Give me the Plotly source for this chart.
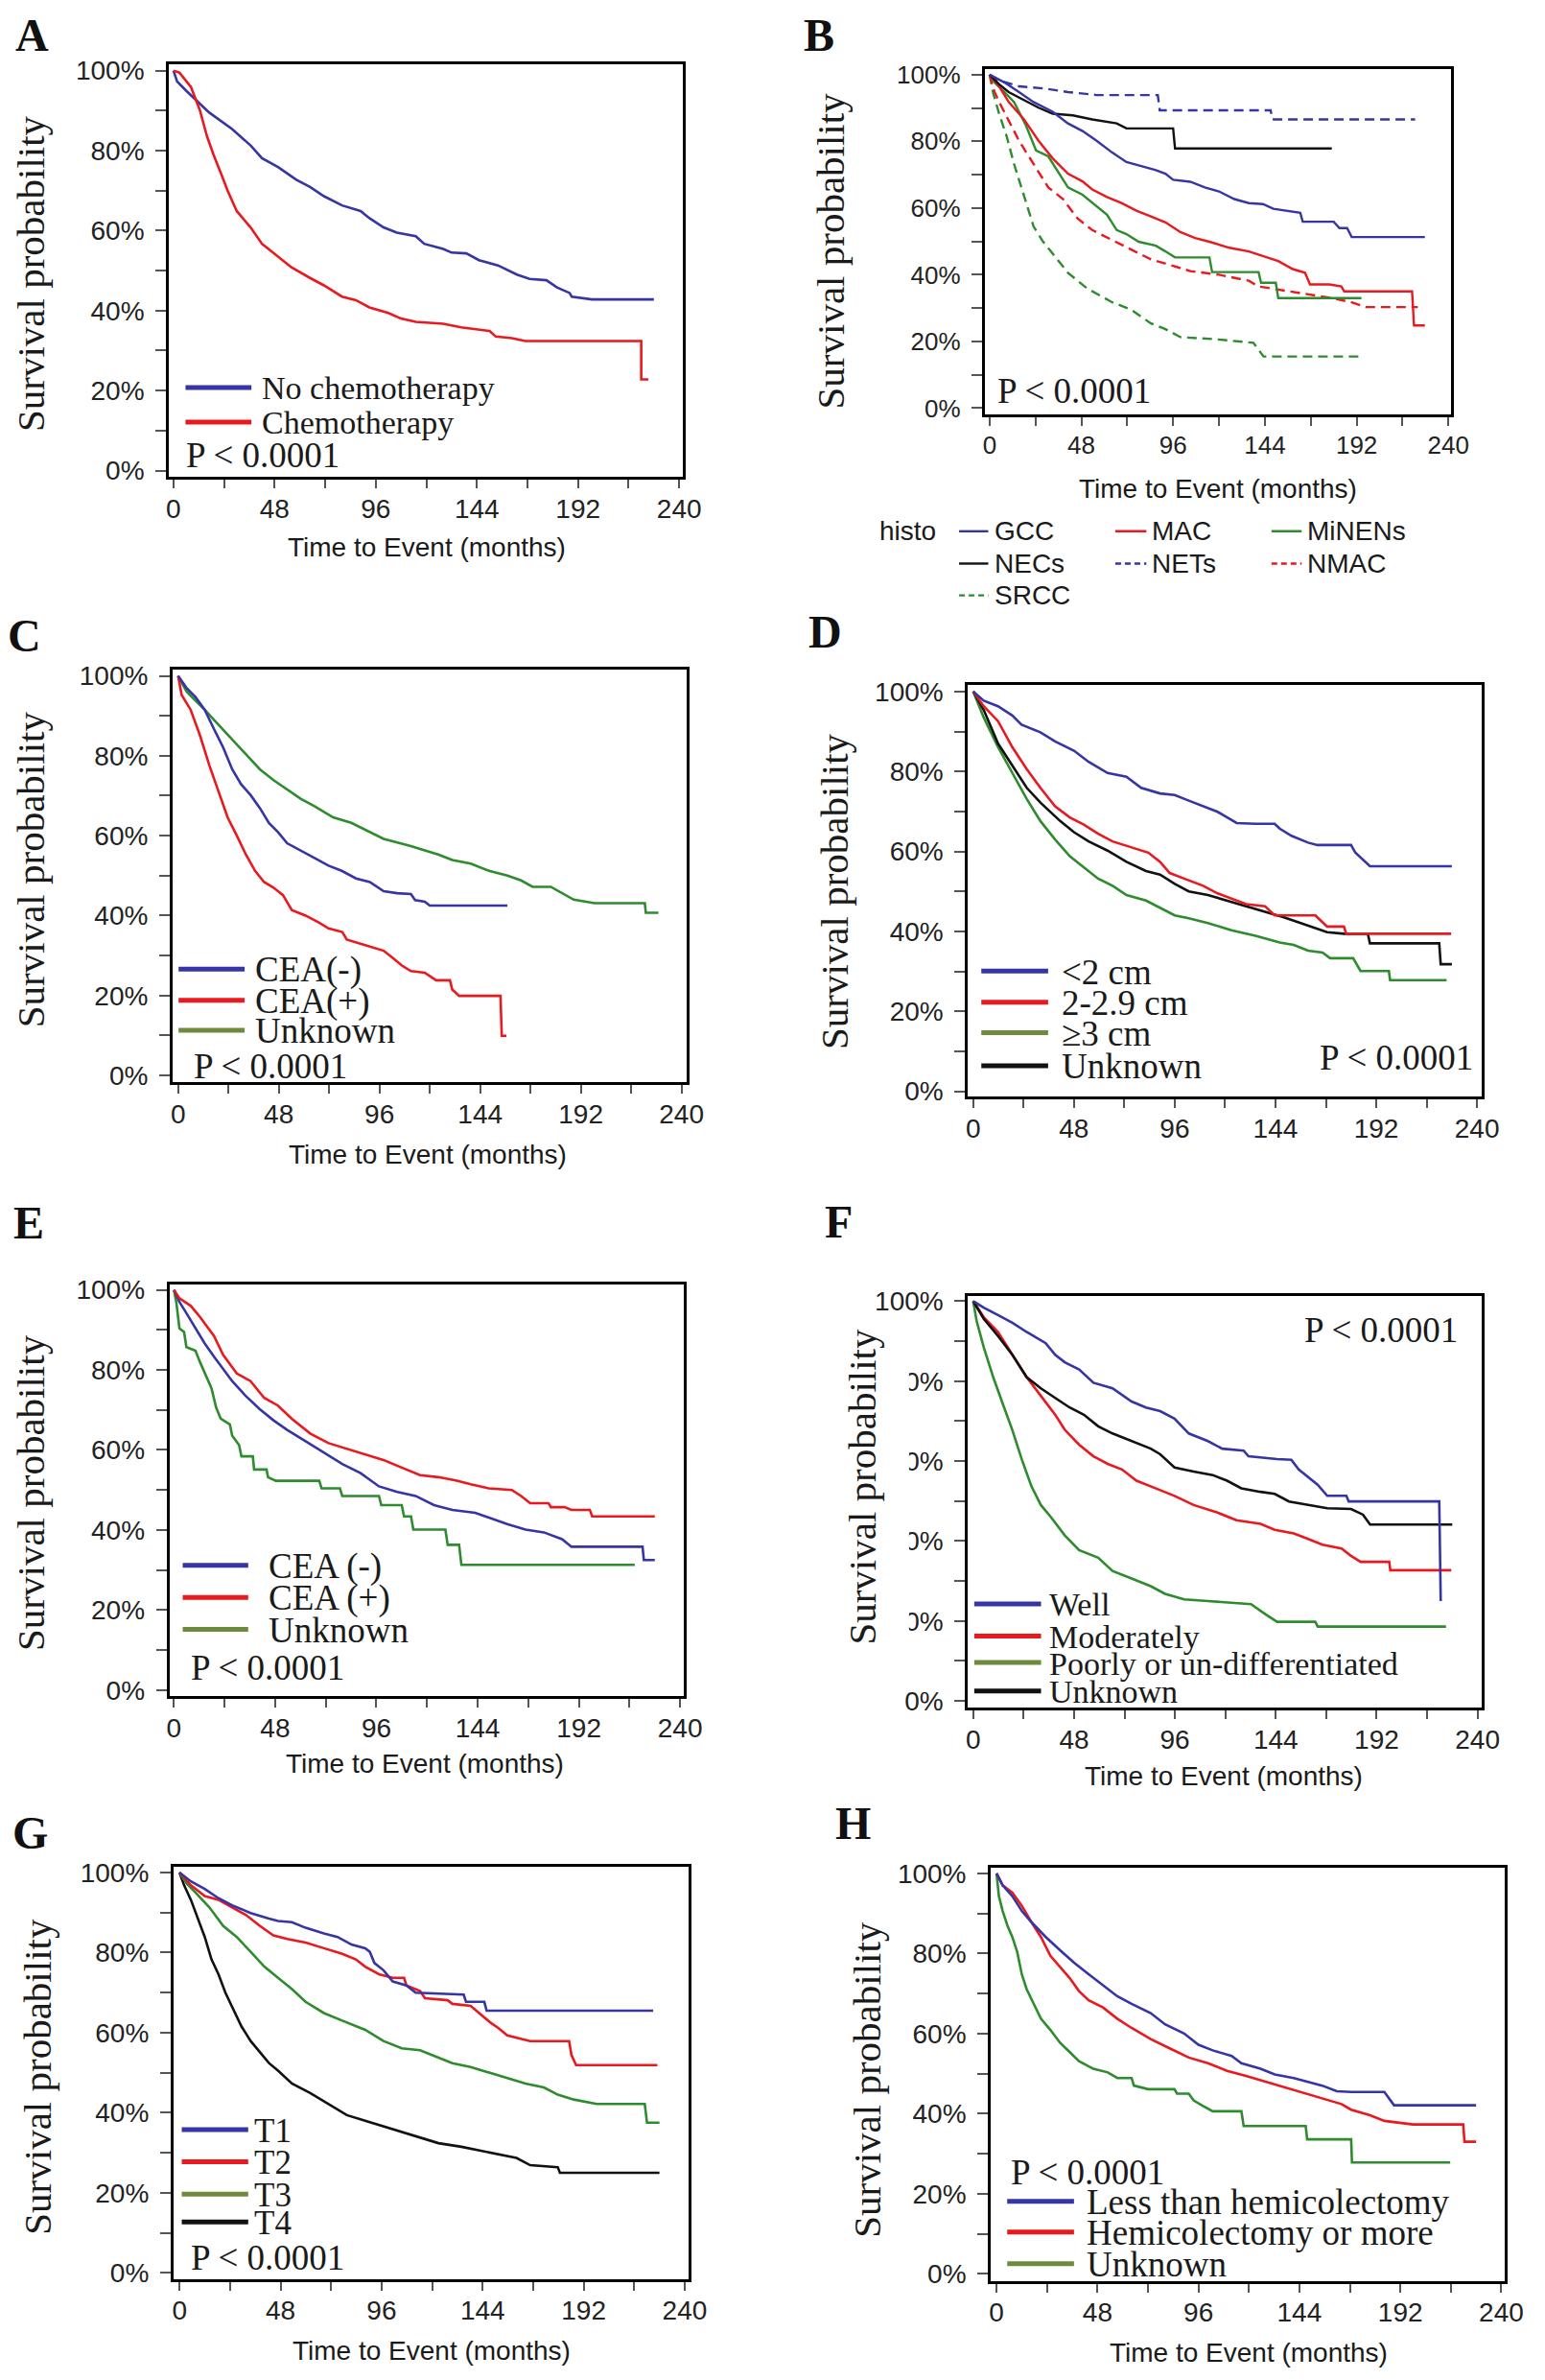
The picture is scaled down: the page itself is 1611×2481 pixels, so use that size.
import plotly.graph_objects as go

# page is 1611 x 2481 with the browser's default 8px body margin around the figure
OFF = 8
FW, FH = 1594, 2464
K = 1560.0 / 1568.0   # correction of measured positions

BLUE = "#3535a5"
RED = "#e8191f"
GREEN = "#2e8b2e"
BLACK = "#111111"
OLIVE = "#6e8b3d"

# ---------------- data (months, survival %) ----------------
A_nochemo_t = [0, 1.7, 6, 10.4, 17, 27.8, 36.6, 42, 49.6, 58.3, 64.8, 71.4, 80, 88.8, 93, 99.7, 106, 115, 119, 128, 132, 139, 145, 154, 163, 169, 177, 182, 188, 189, 198.6, 228]
A_nochemo_s = [100, 97.3, 95.0, 92.7, 89.5, 85.4, 81.3, 78.1, 75.9, 72.7, 70.9, 68.6, 66.3, 64.9, 63.1, 60.8, 59.5, 58.6, 56.7, 55.4, 54.5, 54.3, 52.6, 51.3, 49.0, 47.9, 47.6, 45.8, 44.4, 43.5, 42.8, 42.8]
A_chemo_t = [0, 2.8, 8.3, 12.6, 15.9, 19, 22.4, 25.7, 30, 36.6, 42, 45, 49.6, 56, 65, 71.4, 80, 86.6, 93, 102, 108, 115, 128, 136.6, 150, 153, 160.6, 167, 222, 222, 225.4]
A_chemo_s = [100, 99.5, 95.9, 90.0, 83.6, 79.0, 74.5, 70.0, 64.9, 60.8, 56.7, 55.4, 53.6, 50.8, 48.1, 46.3, 43.5, 42.6, 40.8, 39.4, 38.0, 37.2, 36.7, 35.8, 34.9, 33.5, 33.1, 32.4, 32.4, 22.8, 22.8]

B_gcc_t = [0, 7.7, 15.4, 23, 33, 41, 48.6, 56, 64, 71.6, 79.3, 87, 92, 96, 105, 112.6, 120, 128, 135.6, 143, 148.4, 156, 162.5, 163.8, 180, 183, 187, 189.4, 227.7]
B_gcc_s = [100, 97.7, 94.8, 91.8, 88.9, 85.4, 83.1, 80.2, 76.7, 73.8, 72.6, 71.4, 70.3, 68.5, 67.9, 66.2, 65.0, 62.7, 61.5, 61.2, 59.8, 59.2, 58.6, 55.9, 55.9, 54.0, 54.0, 51.3, 51.3]
B_mac_t = [0, 5, 10, 18, 25.6, 33, 41, 48.6, 53.7, 61.4, 69, 76.8, 84.4, 92, 99.8, 107.5, 115, 125.4, 135.6, 145.9, 151, 158.6, 165, 167.6, 177.8, 184, 185.5, 221, 222, 227.7]
B_mac_s = [100, 96.5, 91.8, 86.6, 80.2, 74.9, 70.3, 68.0, 65.6, 63.3, 61.5, 59.2, 57.5, 55.7, 52.8, 51.0, 49.9, 48.1, 47.0, 45.2, 44.1, 41.7, 40.6, 37.1, 37.1, 36.5, 35.0, 35.0, 24.8, 24.8]
B_minens_t = [0, 2.6, 7.7, 12.8, 19, 24.3, 30.7, 35.8, 41, 48.6, 56, 61.4, 66.5, 71.6, 78, 87, 92, 97, 115, 116.4, 140.7, 142, 149.7, 151, 194.5]
B_minens_s = [100, 97.7, 94.8, 91.8, 84.8, 77.3, 75.5, 70.9, 66.2, 64.0, 60.4, 58.0, 53.4, 52.2, 49.9, 48.7, 47.0, 45.2, 45.2, 40.8, 40.8, 37.6, 37.6, 33.0, 33.0]
B_necs_t = [0, 5, 10, 18, 25.6, 33, 43.5, 53.7, 66.5, 71.6, 96, 97, 179]
B_necs_s = [100, 97.1, 94.8, 92.4, 90.1, 88.3, 87.8, 86.6, 85.4, 83.9, 83.9, 77.9, 77.9]
B_nets_t = [0, 5, 15.4, 28, 41, 56, 88, 89, 147, 148, 222.6]
B_nets_s = [100, 98.3, 96.5, 95.9, 94.8, 93.9, 93.9, 89.3, 89.3, 86.6, 86.6]
B_nmac_t = [0, 2.6, 5, 10, 15.4, 20.5, 25.6, 30.7, 38.4, 46, 53.7, 64, 74.2, 84.4, 94.7, 105, 120, 135.6, 140.7, 161, 179, 189, 197, 224]
B_nmac_s = [100, 94.8, 91.8, 86.0, 80.2, 75.5, 70.9, 66.2, 62.7, 56.9, 53.4, 50.5, 47.6, 44.6, 42.9, 41.1, 40.0, 38.2, 36.5, 34.7, 33.0, 31.8, 30.3, 30.3]
B_srcc_t = [0, 2, 5, 9, 12.8, 18, 23, 28, 33, 41, 51, 64, 74.2, 84.4, 92, 99.8, 117.7, 138, 143.3, 194.5]
B_srcc_s = [100, 94.2, 88.3, 81.4, 73.2, 63.9, 54.5, 49.9, 46.4, 40.6, 35.9, 31.8, 29.5, 25.4, 23.7, 21.3, 20.7, 19.6, 15.5, 15.5]

C_neg_t = [0, 4, 8.3, 12.7, 17, 21.4, 25.8, 30, 34.5, 39, 43.3, 47.6, 52, 58.6, 65, 71.7, 78, 84.8, 91.4, 98, 104.5, 111, 113, 117.6, 120, 157]
C_neg_s = [100, 97.0, 94.7, 91.5, 86.8, 82.2, 76.6, 72.9, 70.2, 66.9, 63.2, 60.9, 58.1, 56.3, 54.4, 52.5, 51.2, 49.3, 48.4, 46.1, 45.6, 45.4, 43.9, 43.5, 42.5, 42.5]
C_pos_t = [0, 1.7, 6, 10.5, 14.9, 19.2, 23.6, 28, 32.3, 36.7, 41, 45.5, 50, 54.2, 60.8, 67.3, 71.7, 78.3, 80.4, 89.2, 98, 102.3, 106.7, 111, 117.6, 123, 129.6, 130.7, 134, 153.7, 154.3, 156.5]
C_pos_s = [100, 95.2, 91.5, 85.0, 77.6, 71.1, 64.6, 60.0, 55.3, 51.2, 48.4, 47.0, 45.1, 41.4, 40.0, 38.2, 36.8, 35.9, 34.0, 32.6, 31.2, 29.4, 27.5, 26.1, 25.7, 23.8, 23.8, 21.5, 19.9, 19.9, 9.9, 9.9]
C_unk_t = [0, 4, 8.3, 12.7, 19.2, 25.8, 32.3, 39, 45.5, 52, 58.6, 65, 73.9, 82.6, 91.4, 98, 104.5, 111, 117.6, 124, 130.7, 139.5, 148.2, 157, 163.5, 169, 177.7, 183, 188.6, 198.5, 222.5, 223, 229]
C_unk_s = [100, 96.1, 93.8, 91.5, 87.8, 84.1, 80.4, 76.6, 73.9, 71.5, 69.2, 67.4, 64.6, 63.2, 60.9, 59.2, 58.3, 57.4, 56.3, 55.3, 53.9, 53.0, 51.2, 50.0, 48.8, 47.2, 47.2, 45.6, 44.0, 43.1, 43.1, 40.7, 40.7]

D_lt2_t = [0, 5, 11.8, 18.6, 23, 32, 39, 48, 55, 64, 73, 80, 89, 96, 102.7, 109.5, 116.4, 121, 125.5, 134.5, 143.6, 146, 151.6, 159.5, 164, 180, 182, 189, 228]
D_lt2_s = [100, 97.7, 96.3, 94.0, 91.7, 89.8, 87.5, 85.2, 82.4, 79.6, 78.7, 75.9, 74.5, 74.1, 72.7, 71.3, 69.9, 68.5, 67.1, 66.9, 66.9, 65.7, 63.9, 62.2, 61.6, 61.6, 59.7, 56.3, 56.3]
D_mid_t = [0, 5, 11.8, 18.6, 25.5, 32, 39, 46, 52.7, 59.5, 66.4, 75.5, 83.4, 89, 93.6, 100.5, 105, 109.5, 116.4, 123, 130, 139, 143.6, 163, 168.6, 176.6, 177.7, 227.7]
D_mid_s = [100, 96.3, 92.6, 86.1, 80.6, 75.9, 71.3, 68.5, 66.7, 64.4, 62.5, 61.1, 59.7, 57.4, 54.6, 53.2, 52.3, 51.4, 49.5, 48.1, 46.8, 46.3, 44.0, 44.0, 41.2, 41.2, 39.4, 39.4]
D_ge3_t = [0, 5, 11.8, 18.6, 25.5, 32, 39, 46, 52.7, 59.5, 66.4, 73, 82.3, 89, 96, 102.7, 111.8, 123, 134.5, 146, 152.7, 159.5, 166.4, 170, 181, 184.5, 198, 198.6, 225.5]
D_ge3_s = [100, 93.5, 86.1, 79.6, 73.1, 67.6, 63.0, 58.8, 56.0, 53.2, 51.4, 49.1, 47.7, 45.8, 44.0, 43.3, 42.1, 40.3, 38.9, 37.2, 36.6, 35.2, 34.7, 33.3, 33.3, 30.1, 30.1, 27.8, 27.8]
D_unk_t = [0, 5, 11.8, 18.6, 25.5, 32, 41.4, 48, 55, 64, 73, 82.3, 89, 96, 102.7, 111.8, 121, 130, 139, 148, 157, 168.6, 176.6, 188, 189, 222, 222.7, 228]
D_unk_s = [100, 95.4, 87.0, 81.5, 75.9, 72.2, 67.6, 64.8, 62.5, 60.2, 57.4, 55.1, 54.2, 51.9, 50.0, 49.1, 47.7, 46.3, 44.9, 43.5, 41.9, 39.8, 39.4, 39.4, 37.0, 37.0, 31.8, 31.8]

E_neg_t = [0, 2.6, 5.9, 10.2, 14.6, 19, 23.3, 27.6, 34, 40.7, 47.2, 53.7, 62.4, 71.1, 79.8, 88.5, 97.2, 105.9, 114.6, 123.3, 132, 142.8, 149.3, 158, 166.7, 175.4, 184, 188.5, 222.2, 222.8, 228]
E_neg_s = [100, 97.0, 94.2, 90.4, 86.6, 83.3, 80.1, 77.2, 73.5, 70.2, 67.4, 65.0, 62.2, 59.4, 56.5, 54.2, 50.9, 49.5, 48.5, 46.2, 45.0, 44.3, 43.1, 41.5, 40.1, 39.4, 37.7, 35.8, 35.8, 32.5, 32.5]
E_pos_t = [0, 2.6, 8, 12.4, 19, 23.3, 29.8, 36.3, 42.8, 49.3, 55.9, 64.6, 73.3, 82, 90.7, 99.3, 108, 116.7, 125.4, 134.1, 140.7, 149.3, 160.2, 164.6, 168.9, 177.6, 178.7, 185.2, 188.5, 197.2, 198.3, 228]
E_pos_s = [100, 97.9, 96.0, 93.2, 88.5, 83.8, 79.1, 77.2, 73.0, 71.1, 67.8, 64.1, 61.7, 60.3, 58.9, 57.5, 55.6, 53.7, 53.2, 52.3, 51.4, 50.4, 50.0, 48.5, 46.7, 46.7, 45.7, 45.7, 45.0, 45.0, 43.4, 43.4]
E_unk_t = [0, 1.1, 2.6, 4.8, 5.9, 10.2, 12.4, 14.6, 17.8, 20, 22.2, 26.5, 27.6, 30.9, 32, 37.4, 38, 43.9, 44.6, 48.3, 68.9, 70, 78.7, 79.8, 97.2, 98.3, 108, 109.1, 112.4, 113.5, 128.7, 129.8, 135.2, 136.3, 218.5]
E_unk_s = [100, 97.0, 90.4, 89.5, 85.7, 84.8, 81.9, 79.1, 75.4, 70.6, 67.8, 66.4, 63.6, 61.2, 58.4, 58.4, 55.1, 55.1, 53.2, 52.3, 52.3, 50.4, 50.4, 48.5, 48.5, 46.2, 46.2, 43.4, 43.4, 40.1, 40.1, 36.3, 36.3, 31.3, 31.3]

F_well_t = [0, 5, 11.8, 18.6, 25.4, 34.5, 39, 43.6, 50.4, 57.2, 66.3, 75.4, 82.2, 89, 95.8, 102.6, 111.7, 118.5, 128.7, 131, 144.6, 151.4, 154.9, 159.4, 163.9, 168.5, 177.6, 178.7, 221.8, 222.5]
F_well_s = [100, 98.4, 96.5, 94.6, 92.3, 89.5, 86.6, 84.7, 82.9, 79.6, 78.2, 74.9, 73.4, 72.5, 70.6, 66.9, 65.0, 63.1, 62.6, 61.2, 60.5, 60.3, 57.9, 56.0, 54.1, 51.3, 51.3, 49.9, 49.9, 25.0]
F_mod_t = [0, 5, 11.8, 18.6, 25.4, 32.2, 39, 43.6, 50.4, 57.2, 64, 70.8, 77.7, 86.7, 95.8, 104.9, 116.3, 125.3, 136.7, 143.5, 152.6, 159.4, 166.2, 175.3, 179.8, 184.4, 198, 198.5, 227.5]
F_mod_s = [100, 96.0, 92.3, 86.6, 81.0, 76.3, 71.6, 67.8, 64.1, 61.2, 59.3, 57.9, 55.1, 53.2, 51.3, 49.0, 47.1, 45.2, 44.3, 42.8, 41.9, 40.5, 39.1, 38.1, 36.3, 34.8, 34.8, 32.7, 32.7]
F_poor_t = [0, 1.6, 5, 9.5, 14, 18.6, 23.2, 27.7, 32.2, 36.8, 43.6, 50.4, 59.5, 66.3, 75.4, 84.5, 91.3, 100.4, 111.7, 125.3, 132.2, 139, 144.6, 162.8, 164, 225]
F_poor_s = [100, 95.1, 88.5, 81.0, 74.4, 67.8, 60.3, 53.7, 49.0, 46.1, 41.4, 37.7, 35.8, 32.5, 30.6, 28.7, 26.8, 25.4, 25.0, 24.5, 24.2, 21.7, 19.8, 19.8, 18.6, 18.6]
F_unk_t = [0, 5, 11.8, 18.6, 25.4, 32.2, 39, 45.9, 52.7, 59.5, 66.3, 75.4, 84.5, 89, 95.8, 104.9, 114, 120.8, 127.6, 136.7, 143.5, 150.3, 159.4, 168.5, 179.8, 185.5, 188.9, 228]
F_unk_s = [100, 95.6, 91.3, 86.6, 81.0, 78.2, 75.8, 73.4, 71.6, 68.7, 66.9, 65.0, 63.1, 61.7, 58.4, 57.4, 56.5, 55.1, 53.2, 52.3, 51.8, 49.9, 49.0, 48.2, 48.0, 46.6, 44.1, 44.1]

G_t1_t = [0, 5.4, 12, 18.5, 25, 33.8, 42.5, 46.8, 53.4, 59.9, 68.6, 75.1, 81.7, 88.2, 90.4, 92.6, 96.9, 101.3, 107.8, 112.2, 135, 136.1, 144.8, 145.9, 225]
G_t1_s = [100, 97.8, 95.9, 93.6, 91.8, 89.9, 88.5, 87.9, 87.6, 86.2, 84.8, 83.9, 82.0, 81.1, 80.2, 77.4, 75.6, 72.8, 71.8, 70.0, 69.5, 67.7, 67.7, 65.5, 65.5]
G_t2_t = [0, 5.4, 12, 18.5, 25, 31.6, 38.1, 44.6, 51.2, 59.9, 68.6, 77.3, 83.8, 88.2, 94.7, 101.3, 106.7, 107.8, 114.3, 116.6, 127.4, 129.6, 138.3, 143.7, 148, 151.4, 155.7, 166.6, 185.1, 186.2, 188.4, 227]
G_t2_s = [100, 96.8, 94.1, 93.2, 91.3, 89.4, 86.7, 84.3, 83.4, 82.5, 81.1, 79.7, 78.3, 76.5, 74.6, 73.7, 73.7, 71.8, 70.4, 68.6, 68.1, 67.2, 66.7, 64.4, 62.4, 61.2, 59.3, 57.9, 57.9, 54.4, 51.9, 51.9]
G_t3_t = [0, 3.3, 7.6, 14.2, 20.7, 27.2, 33.8, 40.3, 46.8, 53.4, 59.9, 68.6, 77.3, 88.2, 96.9, 105.6, 114.3, 120.9, 129.6, 138.3, 147, 155.7, 164.4, 173.1, 179.7, 187.3, 198.2, 221, 222.1, 228]
G_t3_s = [100, 97.3, 95.0, 91.3, 86.7, 83.9, 80.2, 76.5, 73.7, 70.9, 67.7, 64.9, 63.0, 60.7, 57.9, 56.1, 55.6, 54.2, 52.4, 51.4, 50.0, 48.7, 47.3, 46.3, 44.5, 43.3, 42.2, 42.2, 37.5, 37.5]
G_t4_t = [0, 2.2, 5.4, 8.7, 12, 15.2, 18.5, 21.8, 25, 29.4, 33.8, 38.1, 42.5, 46.8, 53.4, 62.1, 70.8, 79.5, 88.2, 96.9, 105.6, 114.3, 123, 133.9, 142.6, 151.4, 160.1, 166.6, 179.7, 180.7, 228]
G_t4_s = [100, 96.8, 93.2, 88.5, 83.9, 78.3, 74.6, 70.0, 66.3, 61.6, 57.9, 55.1, 52.4, 50.5, 47.3, 44.9, 42.2, 39.4, 38.0, 36.6, 35.2, 33.8, 32.4, 31.5, 30.6, 29.7, 28.7, 26.9, 26.4, 25.0, 25.0]

H_less_t = [0, 2.9, 7.5, 12, 16.6, 23.4, 30.2, 37, 43.8, 50.6, 57.4, 64.2, 73.3, 80.1, 89.2, 96, 102.8, 111.8, 116.4, 125.5, 132.3, 141.3, 148.1, 154.9, 161.8, 168.6, 184.4, 189, 228]
H_less_s = [100, 97.0, 94.3, 90.6, 87.8, 84.1, 80.8, 77.6, 74.8, 72.0, 69.3, 67.4, 65.1, 62.3, 60.0, 57.2, 55.8, 54.4, 52.6, 51.2, 49.8, 48.9, 48.0, 47.0, 45.6, 45.4, 45.4, 42.1, 42.1]
H_hemi_t = [0, 2.9, 7.5, 12, 16.6, 21.1, 25.6, 30.2, 34.7, 39.2, 43.8, 50.6, 57.4, 64.2, 73.3, 82.3, 91.4, 100.5, 109.6, 118.6, 127.7, 136.8, 145.9, 154.9, 164, 168.6, 177.6, 184.4, 198, 221.9, 222.5, 228]
H_hemi_s = [100, 97.0, 95.2, 91.9, 87.8, 84.1, 79.4, 76.7, 73.9, 70.6, 68.3, 66.5, 63.7, 61.4, 58.6, 56.3, 54.0, 52.6, 50.7, 49.4, 48.0, 46.6, 45.2, 43.8, 42.4, 41.0, 39.6, 38.2, 37.3, 37.3, 33.0, 33.0]
H_unk_t = [0, 1.1, 2.9, 5.2, 7.5, 9.8, 12, 14.3, 17.7, 21.1, 25.6, 30.2, 34.7, 39.2, 46, 52.9, 57.4, 64.2, 65.3, 72.1, 84.6, 85.8, 91.4, 93.7, 98.2, 102.8, 116.4, 117.5, 147, 147.7, 168.6, 169, 215.7]
H_unk_s = [100, 94.3, 90.6, 86.9, 84.1, 80.4, 74.8, 71.1, 67.4, 63.7, 60.9, 57.7, 55.4, 53.1, 51.2, 50.3, 48.9, 48.9, 47.0, 46.1, 46.1, 45.0, 45.0, 43.3, 41.9, 40.6, 40.6, 36.9, 36.9, 33.6, 33.6, 27.8, 27.8]

x_tickvals = [0, 48, 96, 144, 192, 240]
y_tickvals = [0, 20, 40, 60, 80, 100]
y_ticktext = ["0%", "20%", "40%", "60%", "80%", "100%"]

# ---------------- layout helpers ----------------
ORG = {"A": (0, 0), "B": (800, 0), "C": (0, 620), "D": (820, 620),
       "E": (0, 1240), "F": (820, 1240), "G": (0, 1870), "H": (820, 1870)}


def cx(pn, x):
    o = ORG[pn][0]
    return o + (x - o) * K


def cy(pn, y):
    o = ORG[pn][1]
    return o + (y - o) * K


def px(x):
    return (x - OFF) / FW


def py(y):
    return 1 - (y - OFF) / FH


SERIF = "Liberation Serif, Times New Roman, serif"
SANS = "Liberation Sans, Arial, sans-serif"

# panel frames in page pixels: left, right, top, bottom (x0 tick, x240 tick, y100 tick, y0 tick)
panels = [
    ("A", (176.4, 722.5, 58.8, 494.2), (181.2, 718.6, 65.4, 487.7), 28),
    ("B", (1039.2, 1534.6, 63.6, 428.8), (1044.4, 1532.0, 69.7, 421.8), 26),
    ("C", (180.3, 726.9, 694.3, 1130.3), (186.1, 721.1, 701.3, 1123.2), 28),
    ("D", (1021.3, 1567.4, 711.1, 1145.9), (1026.9, 1562.3, 717.8, 1140.0), 28),
    ("E", (176.9, 723.5, 1340.5, 1775.7), (181.7, 719.6, 1346.5, 1769.0), 28),
    ("F", (1021.3, 1567.4, 1352.5, 1787.6), (1026.9, 1562.8, 1358.4, 1780.5), 28),
    ("G", (181.2, 728.4, 1952.3, 2387.8), (187.6, 724.5, 1958.5, 2381.2), 28),
    ("H", (1045.6, 1591.7, 1953, 2389.8), (1051.7, 1588.1, 1959.3, 2382.3), 28),
]

curves = [
    (1, A_nochemo_t, A_nochemo_s, BLUE, None),
    (1, A_chemo_t, A_chemo_s, RED, None),
    (2, B_srcc_t, B_srcc_s, GREEN, "10px,6px"),
    (2, B_nmac_t, B_nmac_s, RED, "10px,6px"),
    (2, B_nets_t, B_nets_s, BLUE, "10px,6px"),
    (2, B_minens_t, B_minens_s, GREEN, None),
    (2, B_mac_t, B_mac_s, RED, None),
    (2, B_necs_t, B_necs_s, BLACK, None),
    (2, B_gcc_t, B_gcc_s, BLUE, None),
    (3, C_unk_t, C_unk_s, GREEN, None),
    (3, C_pos_t, C_pos_s, RED, None),
    (3, C_neg_t, C_neg_s, BLUE, None),
    (4, D_ge3_t, D_ge3_s, GREEN, None),
    (4, D_unk_t, D_unk_s, BLACK, None),
    (4, D_mid_t, D_mid_s, RED, None),
    (4, D_lt2_t, D_lt2_s, BLUE, None),
    (5, E_unk_t, E_unk_s, GREEN, None),
    (5, E_neg_t, E_neg_s, BLUE, None),
    (5, E_pos_t, E_pos_s, RED, None),
    (6, F_poor_t, F_poor_s, GREEN, None),
    (6, F_mod_t, F_mod_s, RED, None),
    (6, F_unk_t, F_unk_s, BLACK, None),
    (6, F_well_t, F_well_s, BLUE, None),
    (7, G_t4_t, G_t4_s, BLACK, None),
    (7, G_t3_t, G_t3_s, GREEN, None),
    (7, G_t2_t, G_t2_s, RED, None),
    (7, G_t1_t, G_t1_s, BLUE, None),
    (8, H_unk_t, H_unk_s, GREEN, None),
    (8, H_hemi_t, H_hemi_s, RED, None),
    (8, H_less_t, H_less_s, BLUE, None),
]

fig = go.Figure()
for i, t, s, col, dash in curves:
    fig.add_trace(go.Scatter(
        x=t, y=s, xaxis=f"x{i}", yaxis=f"y{i}", mode="lines",
        line=dict(color=col, width=2.6 if i != 2 else 2.4, dash=dash),
        showlegend=False, hoverinfo="skip"))

layout = dict(width=FW, height=FH, autosize=False, paper_bgcolor="white",
              plot_bgcolor="white", margin=dict(l=0, r=0, t=0, b=0),
              showlegend=False)

for k, (pn, (L, R, T, B), (x0p, x240p, y100p, y0p), tfs) in enumerate(panels, start=1):
    # axis ranges from the tick positions measured in the reference
    mx = (x240p - x0p) / 240.0
    my = (y0p - y100p) / 100.0
    xr = [(L - x0p) / mx, (R - x0p) / mx]
    yr = [-(B - y0p) / my, 100 + (y100p - T) / my]
    Lc, Rc, Tc, Bc = cx(pn, L), cx(pn, R), cy(pn, T), cy(pn, B)
    common = dict(showline=True, linecolor="black", linewidth=3, mirror=True,
                  showgrid=False, zeroline=False, ticks="outside",
                  tickwidth=2, tickcolor="#555",
                  tickfont=dict(family=SANS, size=tfs, color="#222"))
    layout[f"xaxis{k}"] = dict(common, domain=[px(Lc), px(Rc)], anchor=f"y{k}",
                               range=xr, tickvals=x_tickvals, ticklen=9,
                               ticklabelstandoff=-3,
                               minor=dict(tickvals=[24, 72, 120, 168, 216],
                                          ticks="outside", ticklen=9,
                                          tickwidth=2, tickcolor="#555"))
    layout[f"yaxis{k}"] = dict(common, domain=[py(Bc), py(Tc)], anchor=f"x{k}",
                               range=yr, tickvals=y_tickvals, ticklen=11,
                               ticktext=y_ticktext, ticklabelstandoff=6,
                               minor=dict(tickvals=[10, 30, 50, 70, 90],
                                          ticks="outside", ticklen=11,
                                          tickwidth=2, tickcolor="#555"))

fig.update_layout(**layout)

annotations = []
shapes = []


def text(pn, x, y, s, size, family, xanchor="center", color="#1a1a1a", angle=0):
    annotations.append(dict(x=px(cx(pn, x)), y=py(cy(pn, y)), xref="paper", yref="paper",
                            text=s, showarrow=False, xanchor=xanchor,
                            yanchor="middle", textangle=angle, borderpad=0,
                            font=dict(family=family, size=size, color=color)))


def seg(pn, x0, x1, y, color, width=5, dash=None):
    shapes.append(dict(type="line", xref="paper", yref="paper",
                       x0=px(cx(pn, x0)), x1=px(cx(pn, x1)),
                       y0=py(cy(pn, y)), y1=py(cy(pn, y)),
                       line=dict(color=color, width=width, dash=dash)))


# panel letters
for letter, (x, y) in zip("ABCDEFGH", [(31, 28), (863, 28), (23, 659), (870, 655),
                                        (27, 1275), (884, 1274), (29, 1916), (899, 1906)]):
    text(letter, x, y, f"<b>{letter}</b>", 48, SERIF, color="#111")

# F panel: the title box hides part of the tick labels
shapes.append(dict(type="rect", xref="paper", yref="paper", layer="above",
                   x0=px(860), x1=px(958), y0=py(1390), y1=py(1716),
                   fillcolor="white", line=dict(width=0)))

# y titles
for pn, (x, y) in zip("ABCDEFGH", [(30, 280), (875, 256), (29, 906), (880, 929), (30, 1561),
                                   (909, 1554), (36.5, 2174), (914, 2177)]):
    text(pn, x, y, "Survival probability", 41, SERIF, angle=-90)

# x titles
for pn, (x, y) in zip("ABCEFGH", [(450, 569), (1287, 506.7), (451, 1206.5), (448, 1847),
                                  (1293, 1860), (455.5, 2463.4), (1319.4, 2465)]):
    text(pn, x, y, "Time to Event (months)", 28, SANS)

# P values
P = "P &lt; 0.0001"
text("A", 194, 471, P, 37, SERIF, xanchor="left")
text("B", 1052, 404, P, 37, SERIF, xanchor="left")
text("C", 202, 1113.5, P, 37, SERIF, xanchor="left")
text("D", 1559, 1104.8, P, 37, SERIF, xanchor="right")
text("E", 199, 1745.5, P, 37, SERIF, xanchor="left")
text("F", 1542.5, 1389, P, 37, SERIF, xanchor="right")
text("G", 199, 2365.5, P, 37, SERIF, xanchor="left")
text("H", 1066, 2275.4, P, 37, SERIF, xanchor="left")

# legends (serif panels)
legends = [
    ("A", (194, 264), 274, 34, [(400, "No chemotherapy", BLUE), (436.5, "Chemotherapy", RED)]),
    ("C", (186.6, 256.8), 266.5, 37, [(1011, "CEA(-)", BLUE), (1044, "CEA(+)", RED), (1075.5, "Unknown", OLIVE)]),
    ("D", (1035.5, 1106.5), 1120, 37, [(1013, "&lt;2 cm", BLUE), (1046, "2-2.9 cm", RED), (1078, "≥3 cm", OLIVE), (1113, "Unknown", BLACK)]),
    ("E", (191, 260.6), 281.6, 37, [(1637.4, "CEA (-)", BLUE), (1671.2, "CEA (+)", RED), (1705, "Unknown", OLIVE)]),
    ("F", (1028, 1099), 1106.5, 34, [(1678, "Well", BLUE), (1712, "Moderately", RED), (1740, "Poorly or un-differentiated", OLIVE), (1770, "Unknown", BLACK)]),
    ("G", (190, 260.6), 265.5, 35, [(2230, "T1", BLUE), (2264, "T2", RED), (2298, "T3", OLIVE), (2327.5, "T4", BLACK)]),
    ("H", (1063, 1134), 1146, 37, [(2305.6, "Less than hemicolectomy", BLUE), (2338, "Hemicolectomy or more", RED), (2371.4, "Unknown", OLIVE)]),
]
for pn, (lx0, lx1), tx, fs, rows in legends:
    for y, label, col in rows:
        seg(pn, lx0, lx1, y, col, 5)
        text(pn, tx, y + 1, label, fs, SERIF, xanchor="left")

# legend for panel B (sans)
text("B", 926, 551.8, "histo", 28, SANS, xanchor="left")
b_leg = [
    (1012, 1043, 1048.5, 551.8, "GCC", BLUE, None),
    (1178, 1211, 1216, 551.8, "MAC", RED, None),
    (1344, 1376, 1381, 551.8, "MiNENs", GREEN, None),
    (1012, 1043, 1048.5, 585.9, "NECs", BLACK, None),
    (1178, 1211, 1216, 585.9, "NETs", BLUE, "6px,4px"),
    (1344, 1376, 1381, 585.9, "NMAC", RED, "6px,4px"),
    (1012, 1043, 1048.5, 619.5, "SRCC", GREEN, "6px,4px"),
]
for x0, x1, tx, y, label, col, dash in b_leg:
    seg("B", x0, x1, y, col, 2.4, dash)
    text("B", tx, y, label, 28, SANS, xanchor="left")

fig.update_layout(annotations=annotations, shapes=shapes)
fig.write_html("out.html", config={"displayModeBar": False})
